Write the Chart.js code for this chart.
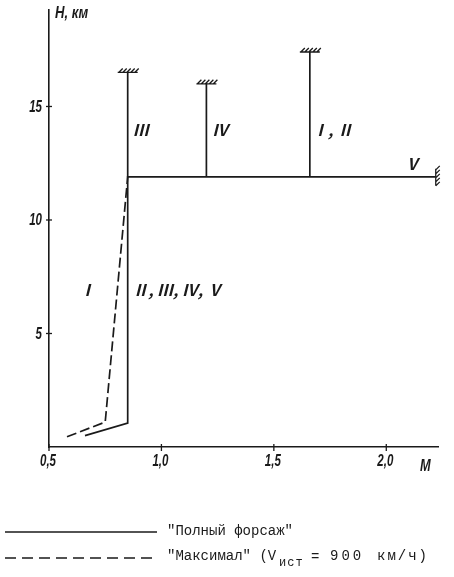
<!DOCTYPE html>
<html>
<head>
<meta charset="utf-8">
<script src="https://cdn.jsdelivr.net/npm/chart.js@4"></script>
<style>
  body { margin: 0; background: #fff; }
  canvas { display: block; }
</style>
</head>
<body>
<canvas id="chart" width="454" height="577"></canvas>
<script>
// "Полный форсаж" curve (M, H km)
const fullM = [0.66, 0.85, 0.85, 2.22];
const fullH = [0.5, 1.05, 11.9, 11.9];
// "Максимал" curve
const maxM = [0.58, 0.75, 0.85];
const maxH = [0.45, 1.1, 11.9];
// ceilings: III, IV, I-II
const ceilM = [0.85, 1.2, 1.66];
const ceilH = [16.5, 16.0, 17.4];
const ceilBase = 11.9;
// tick labels
const xTicks = [0.5, 1.0, 1.5, 2.0];
const xLabels = ['0,5', '1,0', '1,5', '2,0'];
const yTicks = [5, 10, 15];
const yLabels = ['5', '10', '15'];

const ink = '#1a1a1a';

function pts(xs, ys) { return xs.map((x, i) => ({ x: x, y: ys[i] })); }

const datasets = [
  { data: pts(fullM, fullH), borderColor: ink, borderWidth: 1.7, showLine: true, pointRadius: 0 },
  { data: pts(maxM, maxH), borderColor: ink, borderWidth: 1.7, borderDash: [10, 4], showLine: true, pointRadius: 0 }
].concat(ceilM.map((m, i) => ({
  data: [{ x: m, y: ceilBase }, { x: m, y: ceilH[i] }],
  borderColor: ink, borderWidth: 1.7, showLine: true, pointRadius: 0
})));

// narrow italic text like the original drawing
function narrow(c, t, x, y, align, size, k) {
  c.save();
  c.font = 'italic bold ' + size + 'px "Liberation Sans", sans-serif';
  c.textBaseline = 'middle';
  const w = c.measureText(t).width * k;
  const sx = align === 'right' ? x - w : align === 'center' ? x - w / 2 : x;
  c.translate(sx, y);
  c.scale(k, 1);
  c.textAlign = 'left';
  c.fillText(t, 0, 0);
  c.restore();
}

// tick labels, labels, hatches and legend
const extras = {
  id: 'extras',
  afterDraw(chart) {
    const c = chart.ctx, xs = chart.scales.x, ys = chart.scales.y;
    c.save();
    c.strokeStyle = ink; c.fillStyle = ink; c.lineWidth = 1.3;

    // ticks crossing the axes, with labels
    const ax = xs.getPixelForValue(0.5), ay = ys.getPixelForValue(0);
    xTicks.forEach((v, i) => {
      const px = xs.getPixelForValue(v);
      c.beginPath(); c.moveTo(px, ay - 3); c.lineTo(px, ay + 4); c.stroke();
      narrow(c, xLabels[i], px - 1, ay + 15, 'center', 16, 0.72);
    });
    yTicks.forEach((v, i) => {
      const py = ys.getPixelForValue(v);
      c.beginPath(); c.moveTo(ax - 3, py); c.lineTo(ax + 3, py); c.stroke();
      narrow(c, yLabels[i], ax - 7, py + 1, 'right', 16, 0.72);
    });
    narrow(c, 'H, км', 55, 14, 'left', 16, 0.82);
    narrow(c, 'M', 420, 467, 'left', 16, 0.8);

    // hatched caps on ceilings
    ceilM.forEach((m, i) => {
      const px = xs.getPixelForValue(m), py = ys.getPixelForValue(ceilH[i]);
      c.beginPath();
      c.moveTo(px - 10, py); c.lineTo(px + 10, py);
      for (let k = 0; k < 5; k++) {
        c.moveTo(px - 9 + k * 4, py); c.lineTo(px - 5 + k * 4, py - 4);
      }
      c.stroke();
    });
    // hatch at right end of V
    const vx = xs.getPixelForValue(fullM[fullM.length - 1]), vy = ys.getPixelForValue(ceilBase);
    c.beginPath();
    c.moveTo(vx, vy - 8); c.lineTo(vx, vy + 9);
    for (let k = 0; k < 5; k++) {
      c.moveTo(vx, vy - 7 + k * 4); c.lineTo(vx + 4, vy - 11 + k * 4);
    }
    c.stroke();

    // roman numeral labels
    c.font = 'italic bold 16px "Noto Sans CJK JP", "DejaVu Serif", serif';
    c.textBaseline = 'middle';
    c.textAlign = 'left';
    const lab = (t, m, h) => c.fillText(t, xs.getPixelForValue(m), ys.getPixelForValue(h));
    lab('Ⅲ', 0.872, 13.95);
    lab('Ⅳ', 1.225, 13.95);
    lab('Ⅰ, Ⅱ', 1.67, 13.95);
    lab('Ⅴ', 2.08, 12.45);
    lab('Ⅰ', 0.635, 6.9);
    lab('Ⅱ, Ⅲ, Ⅳ, Ⅴ', 0.87, 6.9);

    // legend
    c.lineWidth = 1.5;
    c.beginPath(); c.moveTo(5, 532); c.lineTo(157, 532); c.stroke();
    c.setLineDash([11, 6]);
    c.beginPath(); c.moveTo(5, 558); c.lineTo(152, 558); c.stroke();
    c.setLineDash([]);
    c.font = '14px "Liberation Mono", monospace';
    c.fillText('"Полный форсаж"', 167, 531);
    c.fillText('"Максимал" (V', 167, 556);
    c.fillText('=', 311, 557);
    c.letterSpacing = '3px';
    c.fillText('900', 330, 556);
    c.letterSpacing = '2px';
    c.fillText('км/ч)', 377, 556);
    c.letterSpacing = '1px';
    c.font = '12px "Liberation Mono", monospace';
    c.fillText('ист', 279, 563);
    c.restore();
  }
};

new Chart(document.getElementById('chart'), {
  type: 'scatter',
  data: { datasets: datasets },
  options: {
    responsive: false,
    animation: false,
    layout: { padding: { top: 10, right: 16, bottom: 100, left: 0 } },
    plugins: { legend: { display: false }, tooltip: { enabled: false } },
    scales: {
      x: {
        type: 'linear', min: 0.5, max: 2.23,
        afterBuildTicks: s => { s.ticks = xTicks.map(v => ({ value: v })); },
        afterFit: s => { s.height = 30; },
        border: { color: ink, width: 1.6 },
        grid: { display: false },
        ticks: { display: false }
      },
      y: {
        type: 'linear', min: 0, max: 19.25,
        afterBuildTicks: s => { s.ticks = yTicks.map(v => ({ value: v })); },
        afterFit: s => { s.width = 49; },
        border: { color: ink, width: 1.6 },
        grid: { display: false },
        ticks: { display: false }
      }
    }
  },
  plugins: [extras]
});
</script>
</body>
</html>
